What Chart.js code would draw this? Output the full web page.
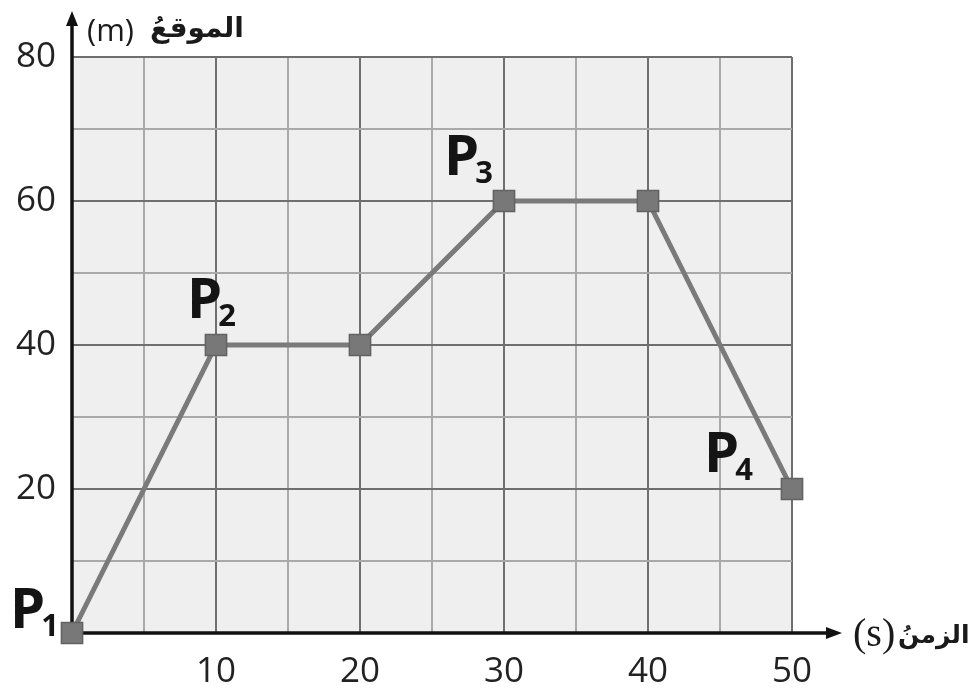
<!DOCTYPE html>
<html>
<head>
<meta charset="utf-8">
<script src="https://cdn.jsdelivr.net/npm/chart.js@4.4.1/dist/chart.umd.min.js"></script>
<style>
  html, body { margin: 0; padding: 0; background: #ffffff; }
  #wrap { width: 970px; height: 690px; }
</style>
</head>
<body>
<div id="wrap"><canvas id="posChart" width="970" height="690"></canvas></div>
<script>
// time (s) and position (m)
const times = [0, 10, 20, 30, 40, 50];
const positions = [0, 40, 40, 60, 60, 20];
// subscript of the P label next to each point ('' = no label)
const pointNames = ['1', '2', '', '3', '', '4'];
const xTickLabels = [10, 20, 30, 40, 50];
const yTickLabels = [20, 40, 60, 80];

const majorGrid = '#6f6f6f';
const minorGrid = '#a9a9a9';

// label offsets from the point, in pixels
const labelOffsets = {
    0: [-59, -5],
    1: [-26, -27],
    3: [-57, -26],
    5: [-85, -17]
};

const backgroundPlugin = {
    id: 'plotBackground',
    beforeDraw(chart) {
        const { ctx, chartArea: a } = chart;
        ctx.save();
        ctx.fillStyle = '#efeff0';
        ctx.fillRect(a.left, a.top, a.right - a.left, a.bottom - a.top);
        ctx.restore();
    }
};

const axesPlugin = {
    id: 'arrowAxes',
    beforeDatasetsDraw(chart) {
        const { ctx, chartArea: a } = chart;
        ctx.save();
        ctx.strokeStyle = '#111';
        ctx.fillStyle = '#111';
        ctx.lineWidth = 3.5;
        // y axis
        ctx.beginPath();
        ctx.moveTo(a.left, a.bottom + 2);
        ctx.lineTo(a.left, 22);
        ctx.stroke();
        ctx.beginPath();
        ctx.moveTo(a.left, 11);
        ctx.lineTo(a.left - 6, 26);
        ctx.lineTo(a.left + 6, 26);
        ctx.closePath();
        ctx.fill();
        // x axis
        ctx.beginPath();
        ctx.moveTo(a.left - 2, a.bottom);
        ctx.lineTo(828, a.bottom);
        ctx.stroke();
        ctx.beginPath();
        ctx.moveTo(842, a.bottom);
        ctx.lineTo(826, a.bottom - 6);
        ctx.lineTo(826, a.bottom + 6);
        ctx.closePath();
        ctx.fill();
        ctx.restore();
    }
};

const labelsPlugin = {
    id: 'pointLabels',
    afterDraw(chart) {
        const { ctx } = chart;
        const meta = chart.getDatasetMeta(0);
        ctx.save();
        ctx.fillStyle = '#141414';
        ctx.textAlign = 'left';
        ctx.textBaseline = 'alphabetic';
        meta.data.forEach((pt, i) => {
            if (!pointNames[i]) return;
            const off = labelOffsets[i];
            const x = pt.x + off[0];
            const y = pt.y + off[1];
            ctx.font = 'bold 56px "Open Sans"';
            ctx.fillText('P', x - 3, y);
            const w = ctx.measureText('P').width;
            ctx.font = 'bold 31px "Open Sans"';
            ctx.fillText(pointNames[i], x + w - 7, y + 8);
        });

        // axis titles
        ctx.fillStyle = '#1a1a1a';
        ctx.font = '31px "Open Sans"';
        ctx.fillText('(m)', 87, 41);
        ctx.font = 'bold 28px "DejaVu Sans"';
        ctx.fillText('الموقعُ', 150, 37);

        ctx.font = '40px "Liberation Serif"';
        ctx.fillText('(s)', 853, 646);
        ctx.font = 'bold 25px "DejaVu Sans"';
        ctx.fillText('الزمنُ', 898, 643);
        ctx.restore();
    }
};

const data = {
    labels: times,
    datasets: [{
        label: 'الموقع',
        data: times.map((t, i) => ({ x: t, y: positions[i] })),
        borderColor: '#7a7a7a',
        borderWidth: 5,
        pointStyle: 'rect',
        pointRadius: 15,
        pointBackgroundColor: '#787878',
        pointBorderColor: '#626262',
        pointBorderWidth: 1.5,
        tension: 0,
        clip: false
    }]
};

const config = {
    type: 'line',
    data: data,
    options: {
        responsive: false,
        animation: false,
        layout: { padding: { top: 57, right: 178, left: 0, bottom: 0 } },
        plugins: {
            legend: { display: false },
            tooltip: { enabled: false }
        },
        scales: {
            x: {
                type: 'linear',
                min: 0,
                max: 50,
                afterFit: (s) => { s.height = 57; },
                border: { display: false },
                grid: {
                    drawTicks: false,
                    lineWidth: 2,
                    color: (c) => (c.tick && c.tick.value % 10 === 0 ? majorGrid : minorGrid)
                },
                ticks: {
                    stepSize: 5,
                    autoSkip: false,
                    maxRotation: 0,
                    padding: 18,
                    color: '#222',
                    font: { family: '"Open Sans"', size: 35 },
                    callback: (v) => (xTickLabels.includes(v) ? String(v) : '')
                }
            },
            y: {
                min: 0,
                max: 80,
                afterFit: (s) => { s.width = 72; },
                border: { display: false },
                grid: {
                    drawTicks: false,
                    lineWidth: 2,
                    color: (c) => (c.tick && c.tick.value % 20 === 0 ? majorGrid : minorGrid)
                },
                ticks: {
                    stepSize: 10,
                    autoSkip: false,
                    padding: 16,
                    color: '#222',
                    font: { family: '"Open Sans"', size: 35 },
                    callback: (v) => (yTickLabels.includes(v) ? String(v) : '')
                }
            }
        }
    },
    plugins: [backgroundPlugin, axesPlugin, labelsPlugin]
};

new Chart(document.getElementById('posChart'), config);
</script>
</body>
</html>
